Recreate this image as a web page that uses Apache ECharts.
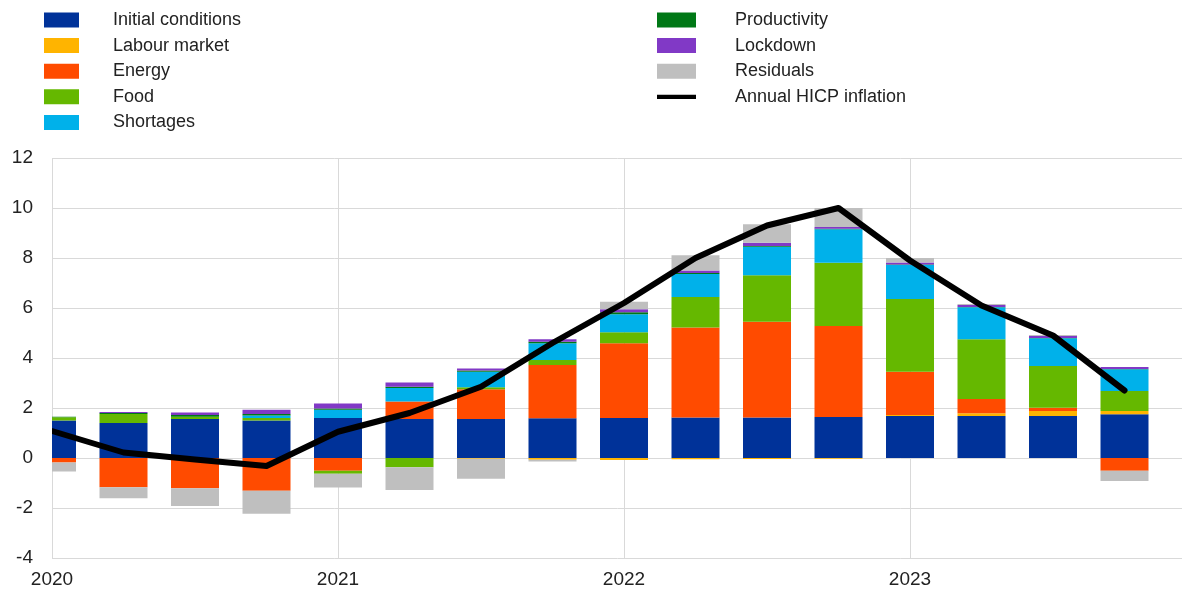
<!DOCTYPE html>
<html>
<head>
<meta charset="utf-8">
<script src="https://cdn.jsdelivr.net/npm/echarts@6/dist/echarts.min.js"></script>
<style>
html,body{margin:0;padding:0;background:#fff;}
#chart{width:1182px;height:592px;}
</style>
</head>
<body>
<div id="chart"></div>
<script>
const quarters = ['2020Q1','2020Q2','2020Q3','2020Q4','2021Q1','2021Q2','2021Q3','2021Q4',
                  '2022Q1','2022Q2','2022Q3','2022Q4','2023Q1','2023Q2','2023Q3','2023Q4'];
const initialConditions = [1.50,1.40,1.56,1.50,1.60,1.56,1.56,1.59,1.60,1.62,1.62,1.64,1.68,1.68,1.68,1.75];
const labourMarket      = [0,0,0,0,0,0,-0.03,-0.07,-0.08,-0.05,-0.04,-0.03,0.04,0.11,0.20,0.13];
const energy            = [-0.18,-1.17,-1.21,-1.31,-0.51,0.70,1.19,2.13,2.99,3.60,3.83,3.64,1.73,0.57,0.13,-0.51];
const food              = [0.13,0.36,0.09,0.10,-0.12,-0.37,0.08,0.20,0.44,1.22,1.86,2.53,2.91,2.39,1.67,0.80];
const shortages         = [0,0,0,0.10,0.33,0.54,0.62,0.67,0.72,0.92,1.14,1.34,1.36,1.28,1.11,0.87];
const productivity      = [0.02,0.04,0.07,0.06,0.05,0.05,0.05,0.06,0.08,0.04,0.03,0.02,0.02,0.01,0.01,0.01];
const lockdown          = [0,0.04,0.10,0.17,0.20,0.17,0.08,0.10,0.12,0.10,0.13,0.07,0.08,0.08,0.08,0.08];
const residuals         = [-0.36,-0.44,-0.71,-0.92,-0.55,-0.91,-0.80,-0.07,0.30,0.61,0.74,0.76,0.18,0.04,0.04,-0.41];
const hicpInflation     = [1.08,0.22,-0.06,-0.32,1.05,1.80,2.85,4.60,6.20,8.00,9.30,10.00,7.90,6.10,4.90,2.70];
const yearTicks = [2020,2021,2022,2023];

const xPos = quarters.map(q => Number(q.slice(0,4)) + (Number(q.slice(5)) - 1) * 0.25);

const barDefs = [
  ['Initial conditions', initialConditions, '#003299'],
  ['Labour market', labourMarket, '#FFB400'],
  ['Energy', energy, '#FF4B00'],
  ['Food', food, '#65B800'],
  ['Shortages', shortages, '#00B1EA'],
  ['Productivity', productivity, '#007816'],
  ['Lockdown', lockdown, '#8139C6'],
  ['Residuals', residuals, '#BFBFBF']
];

const font = '"Liberation Sans", Arial, sans-serif';

// value first, position second so that the stacked dimension is the value (y)
const series = barDefs.map(([name, vals, color]) => ({
  name: name,
  type: 'bar',
  stack: 'total',
  barWidth: 48,
  clip: true,
  encode: { x: 1, y: 0 },
  itemStyle: { color: color },
  data: vals.map((v, i) => [v, xPos[i]]),
  emphasis: { disabled: true }
}));
series.push({
  name: 'Annual HICP inflation',
  type: 'line',
  data: hicpInflation.map((v, i) => [xPos[i], v]),
  showSymbol: false,
  symbol: 'none',
  lineStyle: { color: '#000', width: 6, join: 'round', cap: 'round' },
  itemStyle: { color: '#000' },
  z: 10,
  emphasis: { disabled: true }
});

const chart = echarts.init(document.getElementById('chart'), null, { renderer: 'canvas' });
const gridLeft = 52, gridTop = 158, gridBottom = 34;
chart.setOption({
  animation: false,
  backgroundColor: '#fff',
  textStyle: { fontFamily: font },
  legend: [
    {
      data: barDefs.slice(0, 5).map(d => ({ name: d[0], icon: 'rect' })),
      orient: 'vertical',
      left: 44, top: 11, padding: 0,
      itemWidth: 35, itemHeight: 15, itemGap: 7.6,
      selectedMode: false,
      textStyle: { fontFamily: font, fontSize: 18, color: '#222', padding: [0, 0, 0, 29] }
    },
    {
      data: barDefs.slice(5).map(d => ({ name: d[0], icon: 'rect' })).concat([
        { name: 'Annual HICP inflation', icon: 'path://M0,0H46V5H0Z' }
      ]),
      orient: 'vertical',
      left: 657, top: 11, padding: 0,
      itemWidth: 39, itemHeight: 15, itemGap: 7.6,
      selectedMode: false,
      textStyle: { fontFamily: font, fontSize: 18, color: '#222', padding: [0, 0, 0, 34] }
    }
  ],
  // white margin band left of the plot area so the half bar at the start of 2020 is cut at the axis
  graphic: [{
    type: 'rect', left: 0, top: gridTop - 2, z: 50,
    shape: { width: gridLeft, height: 592 - gridTop - gridBottom + 4 },
    style: { fill: '#fff' }, silent: true
  }],
  grid: { left: gridLeft, right: -6, top: gridTop, bottom: gridBottom, containLabel: false, outerBoundsMode: 'none' },
  xAxis: {
    type: 'value',
    min: yearTicks[0], max: 2023.972, interval: 1,
    axisLine: { show: false },
    axisTick: { show: false },
    axisLabel: {
      margin: 12, fontSize: 19, color: '#222', fontFamily: font,
      formatter: v => (Number.isInteger(v) ? String(v) : '')
    },
    splitLine: { show: true, lineStyle: { color: '#d9d9d9', width: 1 } }
  },
  yAxis: [
    {
      type: 'value',
      min: -4, max: 12, interval: 2,
      axisLine: { show: false },
      axisTick: { show: false },
      axisLabel: { show: false },
      splitLine: { show: true, lineStyle: { color: '#d9d9d9', width: 1 } }
    },
    {
      type: 'value', position: 'left', z: 60,
      min: -4, max: 12, interval: 2,
      axisLine: { show: false },
      axisTick: { show: false },
      axisLabel: { margin: 19, fontSize: 19, color: '#222', fontFamily: font },
      splitLine: { show: false }
    }
  ],
  series: series
});
</script>
</body>
</html>
